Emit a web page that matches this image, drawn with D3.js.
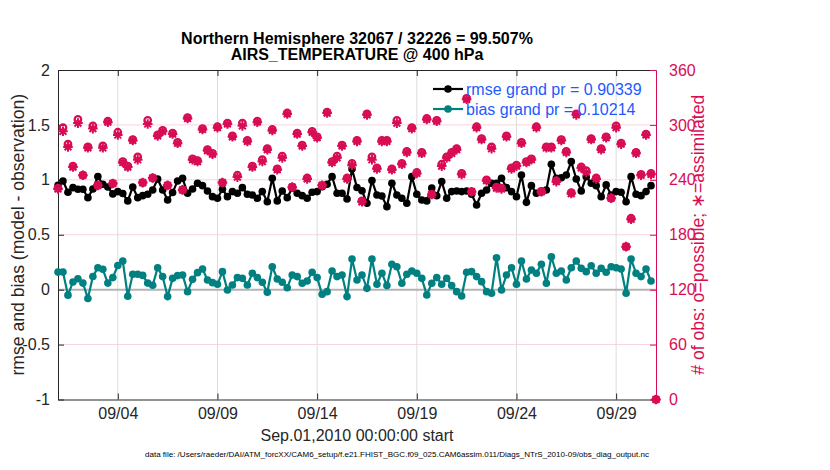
<!DOCTYPE html>
<html>
<head>
<meta charset="utf-8">
<script src="https://cdn.jsdelivr.net/npm/d3@7"></script>
<style>
body { margin: 0; background: #fff; }
text { font-family: "Liberation Sans", Arial, Helvetica, sans-serif; }
</style>
</head>
<body>
<svg id="chart" width="830" height="470"></svg>
<script>
// 6-hourly bins starting Sep.01,2010 00Z, last bin (Oct 1) has no obs
var startDate = new Date(Date.UTC(2010, 8, 1));
var endDate = new Date(Date.UTC(2010, 9, 1));

var rmse = [
	0.95, 0.99, 0.887, 0.929, 0.914, 0.914, 0.838, 0.917, 1.03, 0.96,
	0.935, 0.872, 0.893, 0.875, 0.808, 0.935, 0.838, 0.856, 0.869, 0.908,
	1.008, 0.908, 0.817, 0.884, 0.99, 1.014, 0.878, 0.917, 0.969, 0.947,
	0.899, 0.847, 0.832, 0.914, 0.847, 0.893, 0.878, 0.929, 0.869, 0.862,
	0.832, 0.893, 0.801, 1.014, 0.808, 0.899, 0.838, 0.923, 0.878, 0.856,
	0.832, 0.887, 0.893, 0.938, 0.96, 1.029, 0.878, 0.878, 0.826, 1.099,
	0.93, 0.90, 0.787, 0.993, 0.862, 0.853, 0.756, 0.969, 0.862, 0.832,
	0.787, 1.029, 0.869, 0.817, 0.808, 0.926, 0.855, 0.984, 0.832, 0.893,
	0.899, 0.893, 0.899, 0.869, 0.771, 0.878, 0.908, 0.969, 0.969, 1.014,
	0.929, 0.893, 0.847, 1.044, 0.795, 0.947, 0.878, 0.899, 0.908, 1.142,
	1.014, 1.019, 1.044, 1.166, 1.008, 0.899, 1.029, 0.969, 0.947, 0.847,
	0.954, 0.862, 0.893, 0.887, 0.801, 1.029, 0.869, 0.856, 0.893, 0.947,
	null
];
var bias = [
	0.16, 0.16, -0.05, 0.07, 0.10, 0.06, -0.08, 0.12, 0.20, 0.185,
	0.06, 0.11, 0.22, 0.26, -0.06, 0.14, 0.14, 0.13, 0.06, 0.04,
	0.20, 0.119, -0.063, 0.103, 0.128, 0.134, -0.018, 0.094, 0.155, 0.188,
	0.088, 0.064, 0.049, 0.164, -0.003, 0.043, 0.110, 0.103, 0.043, 0.149,
	0.110, 0.067, -0.024, 0.209, 0.097, 0.067, 0.018, 0.134, 0.119, 0.058,
	0.079, 0.158, 0.110, -0.042, -0.018, 0.170, 0.119, 0.134, -0.063, 0.279,
	0.088, 0.134, 0.012, 0.279, 0.049, 0.149, 0.037, 0.231, 0.209, 0.058,
	0.140, 0.170, 0.149, 0.103, -0.048, 0.058, 0.110, 0.049, 0.103, 0.037,
	-0.018, -0.057, 0.158, 0.164, 0.119, 0.073, -0.018, -0.033, 0.291, -0.003,
	0.134, 0.2, 0.049, 0.261, 0.097, 0.179, 0.149, 0.231, 0.058, 0.30,
	0.149, 0.170, 0.088, 0.2, 0.261, 0.194, 0.164, 0.218, 0.149, 0.194,
	0.158, 0.209, 0.2, 0.188, -0.033, 0.279, 0.149, 0.119, 0.188, 0.079,
	null
];
var nPossible = [
	231, 297, 279, 255, 306, 245, 276, 299, 234, 277,
	304, 236, 292, 260, 255, 284, 265, 237, 305, 242,
	289, 294, 234, 291, 281, 229, 308, 263, 261, 296,
	273, 269, 298, 237, 302, 288, 245, 302, 283, 255,
	304, 262, 274, 295, 252, 266, 313, 232, 291, 278,
	242, 293, 287, 234, 314, 260, 266, 278, 242, 258,
	283, 217, 312, 265, 253, 283, 283, 252, 305, 258,
	271, 297, 248, 270, 307, 224, 305, 257, 265, 270,
	274, 247, 329, 227, 298, 285, 240, 276, 232, 231,
	288, 253, 256, 281, 260, 263, 298, 227, 276, 276,
	239, 284, 271, 226, 312, 254, 250, 285, 242, 274,
	287, 220, 299, 280, 167, 198, 270, 246, 290, 247,
	0
];
var nAssim = [
	230, 293, 276, 254, 302, 245, 275, 296, 234, 275,
	303, 236, 289, 259, 254, 283, 262, 237, 301, 242,
	288, 293, 234, 290, 280, 229, 307, 262, 260, 295,
	272, 268, 297, 237, 301, 287, 243, 299, 282, 254,
	303, 260, 273, 294, 251, 264, 312, 232, 290, 277,
	241, 292, 286, 234, 313, 259, 264, 277, 241, 256,
	282, 216, 311, 262, 252, 282, 282, 251, 302, 257,
	270, 296, 247, 269, 306, 224, 304, 255, 264, 269,
	273, 246, 328, 227, 297, 284, 239, 274, 231, 230,
	287, 252, 255, 280, 259, 262, 297, 227, 275, 275,
	238, 283, 270, 225, 311, 253, 248, 284, 241, 273,
	286, 220, 297, 279, 167, 197, 269, 245, 289, 246,
	0
];

var xTickLabels = ["09/04", "09/09", "09/14", "09/19", "09/24", "09/29"];
var leftTicks = [-1, -0.5, 0, 0.5, 1, 1.5, 2];
var rightTicks = [0, 60, 120, 180, 240, 300, 360];
var legendLabels = ["rmse grand pr = 0.90339", "bias grand pr = 0.10214"];

var titleLines = ["Northern Hemisphere 32067 / 32226 = 99.507%", "AIRS_TEMPERATURE @ 400 hPa"];
var footnote = "data file: /Users/raeder/DAI/ATM_forcXX/CAM6_setup/f.e21.FHIST_BGC.f09_025.CAM6assim.011/Diags_NTrS_2010-09/obs_diag_output.nc";

var pink = "#d80c55";
var teal = "#008080";
var blue = "#1c5bff";

var times = nPossible.map(function(d, i) { return d3.utcHour.offset(startDate, 6 * i); });
var parseDay = d3.utcParse("%Y/%m/%d");
var xTickDates = xTickLabels.map(function(s) { return parseDay("2010/" + s); });

var plotL = 58, plotR = 656, plotT = 70, plotB = 399.5;

var svg = d3.select("#chart");
var x = d3.scaleUtc().domain([startDate, endDate]).range([plotL, plotR]);
var yL = d3.scaleLinear().domain([-1, 2]).range([plotB, plotT]);
var yR = d3.scaleLinear().domain([0, 360]).range([plotB, plotT]);

// grid
svg.append("g").selectAll("line").data(rightTicks.slice(1, -1)).enter().append("line")
	.attr("x1", plotL).attr("x2", plotR)
	.attr("y1", function(d) { return yR(d); }).attr("y2", function(d) { return yR(d); })
	.attr("stroke", "#f6d3df").attr("stroke-width", 1);
svg.append("g").selectAll("line").data(xTickDates).enter().append("line")
	.attr("x1", function(d) { return x(d); }).attr("x2", function(d) { return x(d); })
	.attr("y1", plotT).attr("y2", plotB)
	.attr("stroke", "#dcdcdc").attr("stroke-width", 1);

// zero line
svg.append("line")
	.attr("x1", plotL).attr("x2", plotR)
	.attr("y1", yL(0)).attr("y2", yL(0))
	.attr("stroke", "#b4b4b4").attr("stroke-width", 2);

// axes
function style_axis(g, color) {
	g.selectAll("path").attr("stroke", color).attr("stroke-width", 1);
	g.selectAll("line").attr("stroke", color);
	g.selectAll("text").attr("fill", color).attr("font-size", "16px")
		.attr("font-family", '"Liberation Sans", Arial, sans-serif');
}

var gx = svg.append("g").attr("transform", "translate(0," + plotB + ")")
	.call(d3.axisBottom(x).tickValues(xTickDates).tickFormat(d3.utcFormat("%m/%d"))
		.tickSizeInner(-6).tickSizeOuter(0).tickPadding(8.5));
style_axis(gx, "#262626");

var gt = svg.append("g").attr("transform", "translate(0," + plotT + ")")
	.call(d3.axisTop(x).tickValues(xTickDates).tickFormat("")
		.tickSizeInner(-6).tickSizeOuter(0));
style_axis(gt, "#262626");

var gl = svg.append("g").attr("transform", "translate(" + plotL + ",0)")
	.call(d3.axisLeft(yL).tickValues(leftTicks).tickFormat(function(d) { return String(d); })
		.tickSizeInner(-6).tickSizeOuter(0).tickPadding(8));
style_axis(gl, "#262626");

var gr = svg.append("g").attr("transform", "translate(" + plotR + ",0)")
	.call(d3.axisRight(yR).tickValues(rightTicks)
		.tickSizeInner(-6).tickSizeOuter(0).tickPadding(13));
style_axis(gr, pink);

// rmse and bias lines
function draw_series(values, color) {
	var pts = values.map(function(v, i) { return [times[i], v]; })
		.filter(function(p) { return p[1] !== null; });
	var line = d3.line()
		.x(function(p) { return x(p[0]); })
		.y(function(p) { return yL(p[1]); });
	svg.append("path").datum(pts)
		.attr("d", line)
		.attr("fill", "none")
		.attr("stroke", color)
		.attr("stroke-width", 2.2);
	svg.append("g").selectAll("circle").data(pts).enter().append("circle")
		.attr("cx", function(p) { return x(p[0]); })
		.attr("cy", function(p) { return yL(p[1]); })
		.attr("r", 3.8)
		.attr("fill", color);
}
draw_series(rmse, "#000");
draw_series(bias, teal);

// obs counts: o = possible, * = assimilated
svg.append("g").selectAll("circle").data(nPossible).enter().append("circle")
	.attr("cx", function(d, i) { return x(times[i]); })
	.attr("cy", function(d) { return yR(d); })
	.attr("r", 3.3)
	.attr("fill", "none")
	.attr("stroke", pink)
	.attr("stroke-width", 2.2);
var star = "M-4.8,0H4.8M0,-4.8V4.8M-3.4,-3.4L3.4,3.4M-3.4,3.4L3.4,-3.4";
svg.append("g").selectAll("path").data(nAssim).enter().append("path")
	.attr("transform", function(d, i) { return "translate(" + x(times[i]) + "," + yR(d) + ")"; })
	.attr("d", star)
	.attr("stroke", pink)
	.attr("stroke-width", 2);

// legend
var legendColors = ["#000", teal];
var lg = svg.append("g").selectAll("g").data(legendLabels).enter().append("g")
	.attr("transform", function(d, i) { return "translate(0," + (89 + 20 * i) + ")"; });
lg.append("line").attr("x1", 433).attr("x2", 463).attr("y1", 0).attr("y2", 0)
	.attr("stroke", function(d, i) { return legendColors[i]; }).attr("stroke-width", 2.2);
lg.append("circle").attr("cx", 448).attr("cy", 0).attr("r", 3.8)
	.attr("fill", function(d, i) { return legendColors[i]; });
lg.append("text").attr("x", 466).attr("y", 5.8)
	.attr("font-size", "16px").attr("fill", blue)
	.text(function(d) { return d; });

// titles and labels
svg.append("g").selectAll("text").data(titleLines).enter().append("text")
	.attr("x", (plotL + plotR) / 2)
	.attr("y", function(d, i) { return 44 + 15.5 * i; })
	.attr("text-anchor", "middle")
	.attr("font-size", "16px")
	.attr("font-weight", "bold")
	.attr("fill", "#000")
	.text(function(d) { return d; });

svg.append("text")
	.attr("x", (plotL + plotR) / 2).attr("y", 440.5)
	.attr("text-anchor", "middle").attr("font-size", "16px").attr("fill", "#262626")
	.text("Sep.01,2010 00:00:00 start");

svg.append("text")
	.attr("transform", "translate(24," + (plotT + plotB) / 2 + ") rotate(-90)")
	.attr("text-anchor", "middle").attr("font-size", "17.6px").attr("fill", "#262626")
	.text("rmse and bias (model - observation)");

svg.append("text")
	.attr("transform", "translate(704," + (plotT + plotB) / 2 + ") rotate(-90)")
	.attr("text-anchor", "middle").attr("font-size", "17.6px").attr("fill", pink)
	.text("# of obs: o=possible; \u2217=assimilated");

svg.append("text")
	.attr("x", 145).attr("y", 457)
	.attr("font-size", "8px").attr("fill", "#000")
	.attr("textLength", 504).attr("lengthAdjust", "spacingAndGlyphs")
	.text(footnote);
</script>
</body>
</html>
